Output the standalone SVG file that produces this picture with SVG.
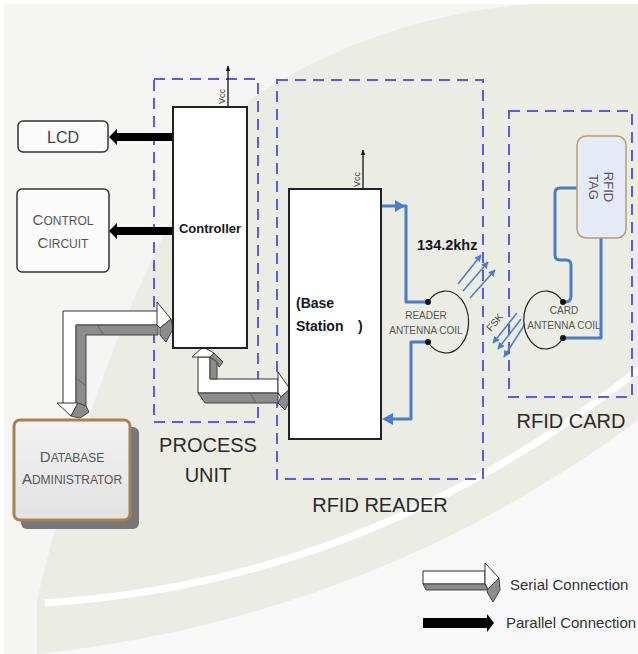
<svg xmlns="http://www.w3.org/2000/svg" width="638" height="654" viewBox="0 0 638 654">
<defs>
<style>
.dash{fill:none;stroke:#5a5af2;stroke-width:2;stroke-dasharray:11 7}
.box{fill:#fff;stroke:#222;stroke-width:2}
.lbl{font-family:"Liberation Sans",Arial,sans-serif;fill:#2a2a2a;font-size:20px;text-anchor:middle}
.sc{font-family:"Liberation Sans",Arial,sans-serif;fill:#555;text-anchor:middle;font-size:12px}
.sc .c{font-size:15px}
.bold{font-family:"Liberation Sans",Arial,sans-serif;font-weight:bold;fill:#151525}
.blue{fill:none;stroke:#4a7cc8;stroke-width:3;stroke-linejoin:round}
.bhead{fill:#4a7cc8}
.wave{fill:none;stroke:#4a7cc8;stroke-width:1.5;marker-end:url(#wh)}
.ser{fill:#fff;stroke:#333;stroke-width:1;stroke-linejoin:round}
.serg{fill:#8c8c8c;stroke:#444;stroke-width:1;stroke-linejoin:round}
.vcc{stroke:#111;stroke-width:1.3;marker-end:url(#vh)}
.tiny{font-family:"Liberation Sans",Arial,sans-serif;font-size:9px;fill:#444}
.coil{font-family:"Liberation Sans",Arial,sans-serif;font-size:10px;fill:#555;text-anchor:middle}
.coilc{fill:none;stroke:#222;stroke-width:1.2}
.leg{font-family:"Liberation Sans",Arial,sans-serif;font-size:15px;fill:#333}
.tag{font-family:"Liberation Sans",Arial,sans-serif;font-size:13px;fill:#555;text-anchor:middle}
.fsk{font-family:"Liberation Sans",Arial,sans-serif;font-size:10px;fill:#444}
.lcd{font-family:"Liberation Sans",Arial,sans-serif;font-size:16px;fill:#444;text-anchor:middle}
</style>
<marker id="wh" viewBox="0 0 10 10" refX="9" refY="5" markerWidth="7" markerHeight="7" orient="auto" markerUnits="userSpaceOnUse"><path d="M0,0 L10,5 L0,10 z" fill="#4a7cc8"/></marker>
<marker id="vh" viewBox="0 0 10 10" refX="9" refY="5" markerWidth="6" markerHeight="6" orient="auto" markerUnits="userSpaceOnUse"><path d="M0,1 L10,5 L0,9 z" fill="#111"/></marker>
<linearGradient id="dbg" x1="0" y1="0" x2="0" y2="1"><stop offset="0" stop-color="#f2f2f2"/><stop offset="1" stop-color="#e2e2e2"/></linearGradient>
</defs>

<g id="background">
<rect width="638" height="654" fill="#fff"/>
<rect x="4" y="4" width="634" height="650" fill="#f5f5f4"/>
<path d="M37,600 C80,420 150,220 250,100 C330,45 430,12 530,4 L638,4 L638,654 L37,654 Z" fill="#ebede4"/>
<path d="M40,654 C250,630 450,560 638,420 L638,654 Z" fill="#f8f8f8"/>
<path d="M45,603 C250,590 450,520 638,370" fill="none" stroke="#fff" stroke-width="7"/>
</g>

<g id="groups">
<rect id="process-unit-frame" class="dash" x="154" y="79" width="104" height="343"/>
<text class="lbl" x="208" y="452">PROCESS</text>
<text class="lbl" x="208" y="482">UNIT</text>
<rect id="rfid-reader-frame" class="dash" x="277" y="80" width="206" height="399"/>
<text class="lbl" x="380" y="512">RFID READER</text>
<rect id="rfid-card-frame" class="dash" x="509" y="111" width="123" height="286"/>
<text class="lbl" x="571" y="428">RFID CARD</text>
</g>

<g id="connectors">
<rect x="116" y="133" width="57" height="8" fill="#000"/>
<polygon points="117,129 109,137 117,145" fill="#000"/>
<rect x="116" y="227" width="57" height="8" fill="#000"/>
<polygon points="117,223 109,231 117,239" fill="#000"/>
<line class="vcc" x1="228" y1="107" x2="228" y2="66"/>
<line class="vcc" x1="363" y1="189" x2="363" y2="150"/>
<polygon class="ser" points="63,311 158,311 158,325 76,325 76,405 63,405"/>
<polygon class="serg" points="76,325 158,325 158,335 86,335 86,407 76,405"/>
<line x1="97" y1="325" x2="104" y2="335" stroke="#555" stroke-width="0.8"/>
<line x1="76" y1="378" x2="86" y2="386" stroke="#555" stroke-width="0.8"/>
<polygon class="ser" points="157,302 171,319 160,328 157,325"/>
<polygon class="serg" points="160,328 171,319 173,329 166,342 160,335"/>
<polygon class="ser" points="57,403 78,403 71,416"/>
<polygon class="serg" points="71,416 78,403 86,406 89,412 80,418"/>
<polygon class="ser" points="198,357 210,357 210,379 278,379 278,393 198,393"/>
<polygon class="serg" points="210,357 217,362 217,379 210,379"/>
<polygon class="serg" points="198,393 278,393 278,403 205,403"/>
<line x1="250" y1="393" x2="256" y2="403" stroke="#555" stroke-width="0.8"/>
<polygon class="ser" points="192,357 203,347 214,353 210,357"/>
<polygon class="serg" points="210,357 214,353 223,362 219,367 217,362"/>
<polygon class="ser" points="278,372 290,389 281,397 278,393"/>
<polygon class="serg" points="281,397 290,389 291,398 285,410 278,403"/>
<polyline class="blue" points="381,206 406,206 406,302 426,302"/>
<polygon class="bhead" points="395,200 405,206 395,212"/>
<polyline class="blue" points="428,342 411,342 411,419 386,419"/>
<polygon class="bhead" points="393,413 382,419 393,425"/>
<path class="blue" d="M577,188 L560,188 Q555,188 555,193 L555,255 Q555,260 560,260 L566,260 Q571,260 571,265 L571,296 Q571,302 565,302"/>
<polyline class="blue" points="563,338 601,338 601,238"/>
<line class="wave" x1="458" y1="284" x2="481" y2="255"/>
<line class="wave" x1="463" y1="291" x2="488" y2="262"/>
<line class="wave" x1="470" y1="298" x2="495" y2="270"/>
<line class="wave" x1="517" y1="313" x2="493" y2="343"/>
<line class="wave" x1="521" y1="319" x2="498" y2="349"/>
<line class="wave" x1="525" y1="324" x2="504" y2="357"/>
<text class="fsk" transform="translate(491,332) rotate(-50)">FSK</text>
<text class="bold" font-size="14.5" x="417" y="250">134.2khz</text>
</g>

<g id="lcd">
<rect x="18" y="121" width="90" height="31" rx="5" fill="#fbfbfb" stroke="#333" stroke-width="1.5"/>
<text class="lcd" x="63" y="143">LCD</text>
</g>

<g id="control-circuit">
<rect x="17" y="189" width="92" height="83" rx="5" fill="#fbfbfb" stroke="#333" stroke-width="1.5"/>
<text class="sc" x="63" y="225"><tspan class="c">C</tspan>ONTROL</text>
<text class="sc" x="63" y="248"><tspan class="c">C</tspan>IRCUIT</text>
</g>

<g id="controller">
<rect class="box" x="173" y="107" width="74" height="241"/>
<text class="bold" font-size="13" x="210" y="233" text-anchor="middle">Controller</text>
<text class="tiny" transform="translate(225,104) rotate(-90)">Vcc</text>
</g>

<g id="base-station">
<rect class="box" x="289" y="189" width="92" height="250"/>
<text class="bold" font-size="14" x="296" y="308">(Base</text>
<text class="bold" font-size="14" x="296" y="331">Station</text>
<text class="bold" font-size="14" x="358" y="331">)</text>
<text class="tiny" transform="translate(360,187) rotate(-90)">Vcc</text>
</g>

<g id="database-administrator">
<rect x="21" y="427" width="118" height="102" rx="6" fill="#777"/>
<rect x="14" y="420" width="116" height="100" rx="6" fill="url(#dbg)" stroke="#a8814f" stroke-width="3"/>
<text class="sc" x="72" y="462"><tspan class="c">D</tspan>ATABASE</text>
<text class="sc" x="72" y="484"><tspan class="c">A</tspan>DMINISTRATOR</text>
</g>

<g id="reader-antenna-coil">
<path class="coilc" d="M428,302 A23 31 0 1 1 428,342"/>
<circle cx="428" cy="302" r="3" fill="#111"/>
<circle cx="428" cy="342" r="3" fill="#111"/>
<text class="coil" x="426" y="319">READER</text>
<text class="coil" x="426" y="334">ANTENNA COIL</text>
</g>

<g id="card-antenna-coil">
<path class="coilc" d="M563,302 A22 29 0 1 0 563,338"/>
<circle cx="563" cy="302" r="3" fill="#111"/>
<circle cx="563" cy="338" r="3" fill="#111"/>
<text class="coil" x="564" y="314">CARD</text>
<text class="coil" x="564" y="329">ANTENNA COIL</text>
</g>

<g id="rfid-tag">
<rect x="577" y="136" width="49" height="102" rx="9" fill="#e4eaf6" stroke="#b89b72" stroke-width="1.5"/>
<text class="tag" transform="translate(604,187) rotate(90)">RFID</text>
<text class="tag" transform="translate(589,187) rotate(90)">TAG</text>
</g>

<g id="legend">
<polygon class="ser" points="423,571 485,571 485,584 423,584"/>
<polygon class="serg" points="423,584 485,584 488,590 426,590"/>
<polygon class="ser" points="485,563 499,578 488,589 485,584"/>
<polygon class="serg" points="488,589 499,578 500,590 493,602 487,592"/>
<text class="leg" x="510" y="590">Serial Connection</text>
<rect x="423" y="618" width="65" height="10" fill="#000"/>
<polygon points="487,614 494,623 487,632" fill="#000"/>
<text class="leg" x="506" y="628">Parallel Connection</text>
</g>
</svg>
